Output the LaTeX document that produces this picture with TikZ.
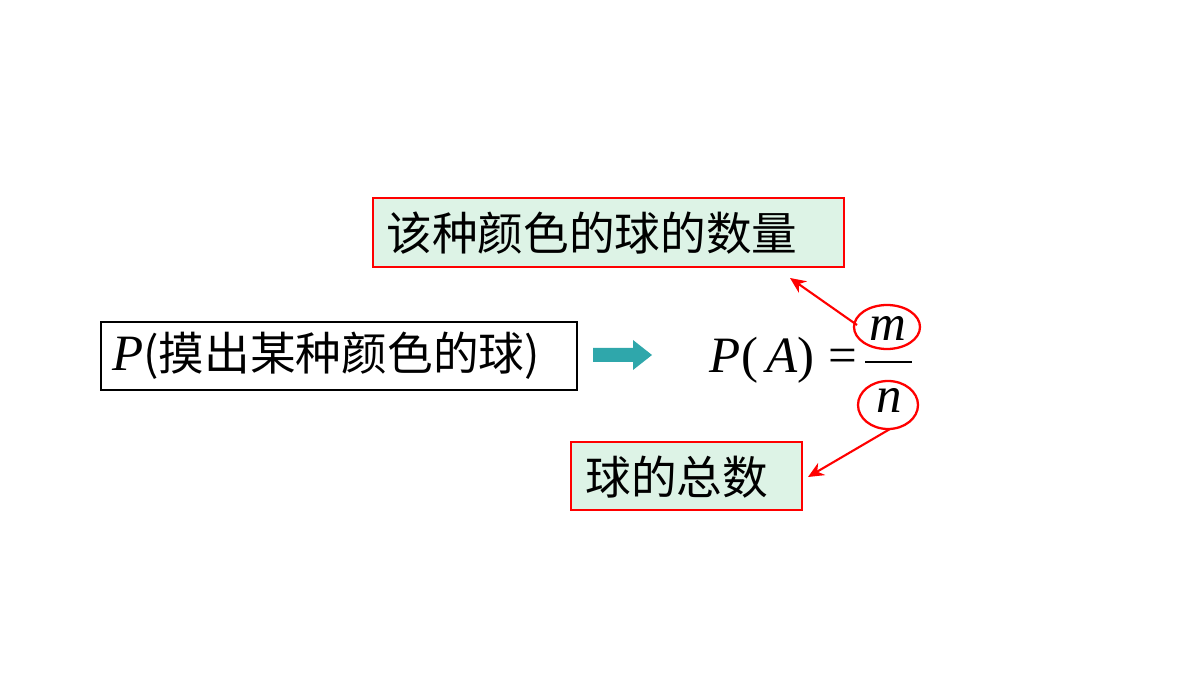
\documentclass[tikz,border=0pt]{standalone}
\usepackage{fontspec}
\setmainfont{Liberation Serif}
\newfontfamily\cjk{Noto Sans CJK SC}
\newfontfamily\tms{Liberation Serif}
\usetikzlibrary{arrows.meta}
\definecolor{boxgreen}{HTML}{DDF3E6}
\definecolor{tealarrow}{HTML}{2FA7AB}
\tikzset{
 redbox/.style={draw=red,fill=boxgreen,line width=0.6pt},
 ctext/.style={font=\cjk\fontsize{26}{29}\selectfont,anchor=west,inner sep=0},
 ftext/.style={font=\tms\fontsize{29}{31}\selectfont,inner sep=0},
 ring/.style={draw=red,line width=1.3pt},
 redarrow/.style={draw=red,line width=1.2pt,-{Stealth[length=9pt,width=8pt]}}
}
\begin{document}
\begin{tikzpicture}[x=0.02cm,y=-0.02cm]
\useasboundingbox (0,0) rectangle (1200,675);
% top box
\draw[redbox] (373,198) rectangle (844,267);
\node[ctext] (top) at (386,233) {该种颜色的球的数量};
\coordinate (topend) at (790,278);
% left box
\draw[line width=1.3pt] (101,322) rectangle (577,390);
\node[ctext] (left) at (112,356) {{\tms\fontsize{29}{31}\selectfont\itshape P}(摸出某种颜色的球)};
% teal arrow
\fill[tealarrow] (593,348) -- (633,348) -- (633,340) -- (652,355) -- (633,370) -- (633,362) -- (593,362) -- cycle;
% formula
\node[ftext,anchor=east] (pa) at (858,360) {\itshape P\/\upshape (\,\itshape A\/\upshape )\;=};
\draw[line width=1.2pt] (865,362) -- (912,362);
\node[ftext] (m) at (888,328) {\itshape m};
\node[ftext] (n) at (889,400) {\itshape n};
\draw[ring] (887,327) ellipse (33 and 22);
\draw[ring] (888,405) ellipse (30 and 24);
\coordinate (ms) at (857,325);
\coordinate (ns) at (890,429);
\draw[redarrow] (ms) -- (topend);
% bottom box
\draw[redbox] (571,442) rectangle (802,510);
\node[ctext] (bot) at (585,477) {球的总数};
\coordinate (botend) at (808,477);
\draw[redarrow] (ns) -- (botend);
\end{tikzpicture}
\end{document}
